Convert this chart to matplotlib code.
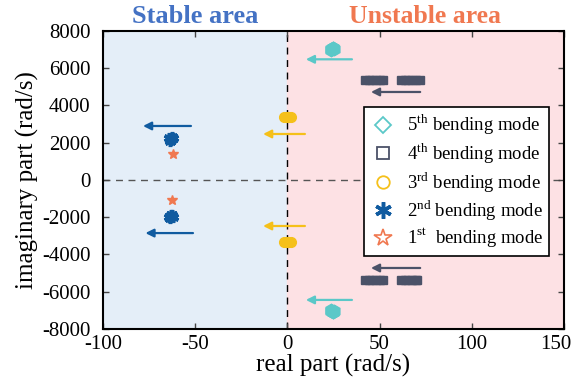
import matplotlib.pyplot as plt
import matplotlib.transforms as mtransforms
from matplotlib.lines import Line2D

plt.rcParams['font.family'] = ['Liberation Serif', 'DejaVu Serif']
plt.rcParams['mathtext.fontset'] = 'custom'
plt.rcParams['mathtext.rm'] = 'Liberation Serif'
plt.rcParams['axes.unicode_minus'] = False

# eigenvalue clusters (real part, imaginary part) for each bending mode
mode5_re = [23.5, 24.5, 25.0, 23.8, 24.6, 23.5, 24.5, 25.0, 23.8, 24.6]
mode5_im = [7050, 7080, 7020, 7000, 7100, -7050, -7080, -7020, -7000, -7100]
mode4_re = [42, 44, 46, 48, 50, 52, 61.5, 63.5, 65.5, 67.5, 69.5, 72,
            42, 44, 46, 48, 50, 52, 61.5, 63.5, 65.5, 67.5, 69.5, 70.5]
mode4_im = [5380] * 12 + [-5380] * 12
mode3_re = [-2.0, -1.0, 0.0, 1.0, 2.0, -2.0, -1.0, 0.0, 1.0, 2.0]
mode3_im = [3380] * 5 + [-3330] * 5
mode2_re = [-64, -63, -62, -63.5, -62.5, -64, -63, -62, -63.5, -62.5]
mode2_im = [2250, 2150, 2250, 2100, 2300, -1980, -1880, -1980, -2050, -1900]
mode1_re = [-62, -62.5]
mode1_im = [1400, -1080]

# arrows showing migration direction: (re_start, re_end, imag)
arrow_start = [35, 35, 72, 72, 9.5, 9.5, -52.3, -51.2]
arrow_end = [10, 10, 45.3, 45.3, -13.2, -13.2, -78.3, -77]
arrow_im = [6480, -6440, 4725, -4725, 2470, -2470, 2900, -2850]
arrow_col = ['#5BC8C8', '#5BC8C8', '#4B5268', '#4B5268',
             '#F5C01A', '#F5C01A', '#105BA0', '#105BA0']

fig = plt.figure(figsize=(5.77, 3.85), dpi=100)
ax = fig.add_axes([0.1785, 0.1455, 0.799, 0.774])

ax.axvspan(-100, 0, color='#E4EEF8', zorder=0)
ax.axvspan(0, 150, color='#FDE1E4', zorder=0)
ax.axvline(0, color='black', ls=(0, (5, 4)), lw=1, zorder=1)
ax.axhline(0, color='#555555', ls=(0, (5, 4)), lw=1, zorder=1)

ax.plot(mode5_re, mode5_im, 'h', color='#5BC8C8', ms=9, ls='none', zorder=3)
ax.plot(mode4_re, mode4_im, 's', color='#4B5268', ms=6, ls='none', zorder=3)
ax.plot(mode3_re, mode3_im, 'o', color='#F5C01A', ms=7, ls='none', zorder=3)
ax.plot(mode2_re, mode2_im, marker=(6, 2, 0), color='#105BA0', ms=8, mew=2.5,
        ls='none', zorder=3)
ax.plot(mode1_re, mode1_im, '*', color='#F07850', ms=7, ls='none', zorder=3)

for x0, x1, y, c in zip(arrow_start, arrow_end, arrow_im, arrow_col):
    ax.annotate('', xy=(x1, y), xytext=(x0, y),
                arrowprops=dict(arrowstyle='-|>', color=c, lw=1.6,
                                mutation_scale=12, shrinkA=0, shrinkB=0),
                zorder=2)

ax.set_xlim(-100, 150)
ax.set_ylim(-8000, 8000)
ax.set_xticks([-100, -50, 0, 50, 100, 150])
ax.set_yticks(range(-8000, 8001, 2000))
ax.tick_params(direction='in', top=True, right=True, labelsize=15, length=4,
               width=1, color='#444444')
ax.tick_params(axis='x', pad=4)
ax.tick_params(axis='y', pad=9)
for s in ax.spines.values():
    s.set_linewidth(1.5)
ax.set_xlabel('real part (rad/s)', fontsize=18, labelpad=0)
ax.set_ylabel('imaginary part (rad/s)', fontsize=18, labelpad=2)

# nudge the last x tick label so it stays inside the figure
fig.canvas.draw()
last = ax.get_xticklabels()[-1]
last.set_transform(last.get_transform() +
                   mtransforms.ScaledTranslation(-6 / 72, 0, fig.dpi_scale_trans))

fig.text(0.338, 0.958, 'Stable area', color='#4472C4', fontsize=19,
         fontweight='bold', ha='center', va='center')
fig.text(0.737, 0.958, 'Unstable area', color='#F07850', fontsize=18.5,
         fontweight='bold', ha='center', va='center')

handles = [
    Line2D([], [], marker='D', ls='none', mfc='none', mec='#5BC8C8', ms=8, mew=1.3),
    Line2D([], [], marker='s', ls='none', mfc='none', mec='#4B5268', ms=9, mew=1.3),
    Line2D([], [], marker='o', ls='none', mfc='none', mec='#F5C01A', ms=9, mew=1.3),
    Line2D([], [], marker=(6, 2, 0), ls='none', color='#105BA0', ms=12, mew=2.5),
    Line2D([], [], marker='*', ls='none', mfc='none', mec='#F07850', ms=13, mew=1.2),
]
labels = ['5$^{\\mathrm{th}}$ bending mode', '4$^{\\mathrm{th}}$ bending mode',
          '3$^{\\mathrm{rd}}$ bending mode', '2$^{\\mathrm{nd}}$ bending mode',
          '1$^{\\mathrm{st}}$  bending mode']
leg = ax.legend(handles, labels, loc='upper right', bbox_to_anchor=(0.968, 0.745),
                fontsize=13.5, frameon=True, fancybox=False, edgecolor='black',
                framealpha=1, handletextpad=0.6, labelspacing=0.2,
                borderpad=0.3, handlelength=1.4, borderaxespad=0)
leg.get_frame().set_linewidth(1.2)

fig.savefig('out.png', dpi=100)
